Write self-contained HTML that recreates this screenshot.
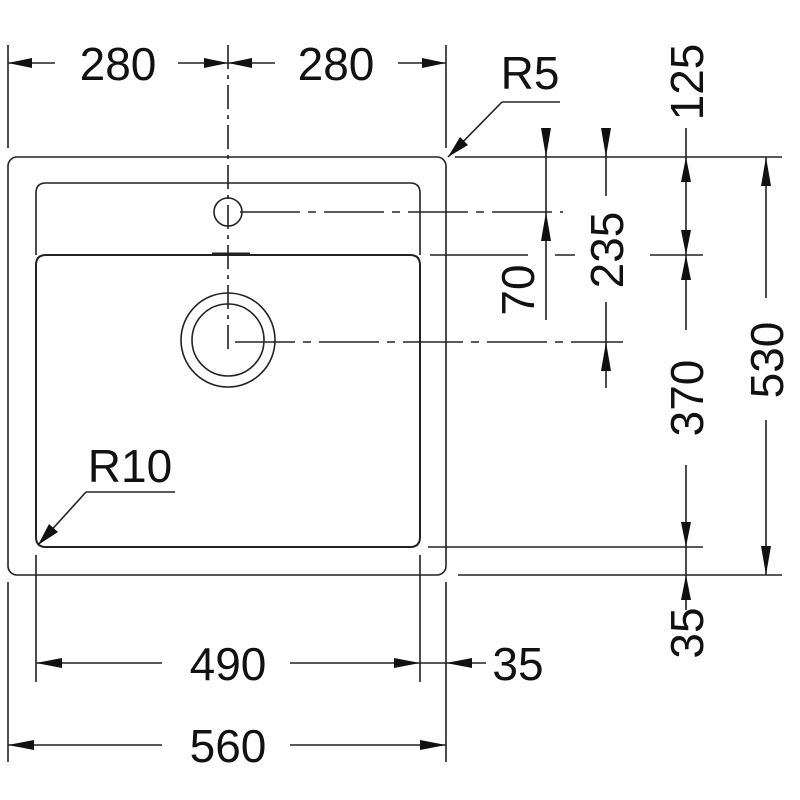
<!DOCTYPE html>
<html><head><meta charset="utf-8"><style>
html,body{margin:0;padding:0;background:#fff;}
svg{display:block;}
text{font-family:"Liberation Sans",sans-serif;font-size:46px;fill:#111;}
</style></head><body>
<svg width="800" height="800" viewBox="0 0 800 800" xmlns="http://www.w3.org/2000/svg">
<g fill="none" stroke="#222" stroke-width="1.6">
<!-- sink outline -->
<rect x="8" y="157" width="438" height="418" rx="9"/>
<path d="M36 255 L36 193 Q36 183 46 183 L410 183 Q420 183 420 193 L420 255"/>
<path d="M36 265 Q36 255 46 255 L410 255 Q420 255 420 265 L420 537 Q420 547 410 547 L46 547 Q36 547 36 537 Z" stroke-width="2"/>
<line x1="212" y1="254" x2="250" y2="254" stroke-width="3"/>
<circle cx="228" cy="212" r="14"/>
<circle cx="228" cy="340" r="47"/>
<circle cx="228" cy="340" r="36"/>
<!-- center line -->
<line x1="228" y1="45" x2="228" y2="350" stroke-dasharray="24,6,4,6"/>
<!-- top extension -->
<line x1="8" y1="45" x2="8" y2="148"/>
<line x1="446" y1="45" x2="446" y2="148"/>
<!-- top dims -->
<line x1="8" y1="63" x2="55" y2="63"/>
<line x1="178" y1="63" x2="228" y2="63"/>
<line x1="228" y1="63" x2="275" y2="63"/>
<line x1="398" y1="63" x2="446" y2="63"/>
<!-- R5 leader -->
<line x1="560" y1="102" x2="502" y2="102"/>
<line x1="502" y1="102" x2="448" y2="157"/>
<!-- horizontal ref lines right -->
<line x1="455" y1="157" x2="782" y2="157"/>
<line x1="240" y1="212" x2="563" y2="212" stroke-dasharray="60,8,8,8"/>
<line x1="430" y1="255" x2="528" y2="255"/>
<line x1="555" y1="255" x2="575" y2="255"/>
<line x1="650" y1="255" x2="703" y2="255"/>
<line x1="235" y1="342" x2="623" y2="342" stroke-dasharray="60,8,8,8"/>
<line x1="428" y1="547" x2="703" y2="547"/>
<line x1="458" y1="575" x2="782" y2="575"/>
<!-- x=546 (70) -->
<line x1="546" y1="128" x2="546" y2="320"/>
<!-- x=606 (235) -->
<line x1="606" y1="128" x2="606" y2="196"/>
<line x1="606" y1="302" x2="606" y2="388"/>
<!-- x=686 -->
<line x1="686" y1="128" x2="686" y2="330"/>
<line x1="686" y1="465" x2="686" y2="610"/>
<!-- x=766 -->
<line x1="766" y1="157" x2="766" y2="298"/>
<line x1="766" y1="420" x2="766" y2="575"/>
<!-- R10 leader -->
<line x1="175" y1="492" x2="86" y2="492"/>
<line x1="86" y1="492" x2="38" y2="545"/>
<!-- bottom extension -->
<line x1="36" y1="555" x2="36" y2="682"/>
<line x1="420" y1="555" x2="420" y2="682"/>
<line x1="8" y1="582" x2="8" y2="762"/>
<line x1="446" y1="582" x2="446" y2="762"/>
<!-- bottom dims -->
<line x1="36" y1="663" x2="162" y2="663"/>
<line x1="290" y1="663" x2="420" y2="663"/>
<line x1="420" y1="663" x2="486" y2="663"/>
<line x1="8" y1="745" x2="162" y2="745"/>
<line x1="290" y1="745" x2="446" y2="745"/>
</g>
<g fill="#111">
<!-- top arrows -->
<polygon points="8,63 32,58 32,68"/>
<polygon points="228,63 204,58 204,68"/>
<polygon points="228,63 252,58 252,68"/>
<polygon points="446,63 422,58 422,68"/>
<!-- R5 arrow -->
<polygon points="448,157 460,137 468,145"/>
<!-- R10 arrow -->
<polygon points="38,545 49,524 58,532"/>
<!-- x=546 -->
<polygon points="546,157 541,128 551,128"/>
<polygon points="546,212 541,241 551,241"/>
<!-- x=606 -->
<polygon points="606,157 601,128 611,128"/>
<polygon points="606,342 601,371 611,371"/>
<!-- x=686 -->
<polygon points="686,157 681,182 691,182"/>
<polygon points="686,255 681,230 691,230"/>
<polygon points="686,255 681,280 691,280"/>
<polygon points="686,547 681,522 691,522"/>
<polygon points="686,575 681,600 691,600"/>
<!-- x=766 -->
<polygon points="766,157 761,186 771,186"/>
<polygon points="766,575 761,546 771,546"/>
<!-- bottom arrows -->
<polygon points="36,663 62,658 62,668"/>
<polygon points="420,663 394,658 394,668"/>
<polygon points="446,663 472,658 472,668"/>
<polygon points="8,745 34,740 34,750"/>
<polygon points="446,745 420,740 420,750"/>
</g>
<g>
<text x="118" y="80" text-anchor="middle">280</text>
<text x="336" y="80" text-anchor="middle">280</text>
<text x="530" y="89" text-anchor="middle" font-size="44">R5</text>
<text x="130" y="482" text-anchor="middle" font-size="44">R10</text>
<text x="228" y="680" text-anchor="middle">490</text>
<text x="518" y="680" text-anchor="middle">35</text>
<text x="228" y="762" text-anchor="middle">560</text>
<text transform="translate(534,290) rotate(-90)" text-anchor="middle">70</text>
<text transform="translate(623,250) rotate(-90)" text-anchor="middle">235</text>
<text transform="translate(703,82) rotate(-90)" text-anchor="middle">125</text>
<text transform="translate(703,398) rotate(-90)" text-anchor="middle">370</text>
<text transform="translate(703,633) rotate(-90)" text-anchor="middle">35</text>
<text transform="translate(783,360) rotate(-90)" text-anchor="middle">530</text>
</g>
</svg>
</body></html>
